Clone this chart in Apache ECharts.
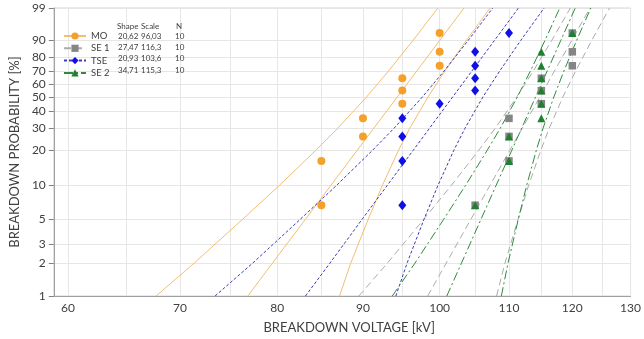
<!DOCTYPE html>
<html><head><meta charset="utf-8">
<script src="https://cdn.jsdelivr.net/npm/echarts@6/dist/echarts.min.js"></script>
<style>html,body{margin:0;padding:0;background:#fff}#c{width:644px;height:339px}</style>
</head><body><div id="c"></div>
<script>
// ---- data ----
const seriesNames = ['MO', 'SE 1', 'TSE', 'SE 2'];
const shapeParams = ['20,62', '27,47', '20,93', '34,71'];
const scaleParams = ['96,03', '116,3', '103,6', '115,3'];
const nParams = ['10', '10', '10', '10'];
const tableHeader = ['Shape', 'Scale', 'N'];

// median-rank probabilities of the 10 points (%)
const rankP = [6.7, 16.3, 25.9, 35.6, 45.2, 54.8, 64.4, 74.0, 83.7, 93.3];
// breakdown voltages (kV)
const moV  = [85, 85, 90, 90, 95, 95, 95, 100, 100, 100];
const se1V = [105, 110, 110, 110, 115, 115, 115, 120, 120, 120];
const tseV = [95, 95, 95, 95, 100, 105, 105, 105, 105, 110];
const se2V = [105, 110, 110, 115, 115, 115, 115, 115, 115, 120];

// probability levels (%) at which the fit lines / bounds were read (kV)
const curveP = [1, 2, 5, 10, 20, 30, 50, 70, 90, 99];
const moFit  = [76.83, 79.47, 83.15, 86.10, 89.29, 91.35, 94.34, 96.90, 99.99, 103.41];
const moLow  = [67.73, 71.36, 76.27, 80.21, 84.36, 86.94, 90.44, 93.21, 96.39, 99.76];
const moUp   = [87.15, 88.50, 90.65, 92.42, 94.50, 95.98, 98.41, 100.73, 103.72, 107.19];
const tseFit = [83.16, 86.00, 89.89, 93.04, 96.43, 98.62, 101.80, 104.53, 107.81, 111.44];
const tseLow = [73.45, 77.34, 82.56, 86.77, 91.19, 93.93, 97.65, 100.61, 103.99, 107.57];
const tseUp  = [94.16, 95.62, 97.87, 99.76, 101.97, 103.55, 106.12, 108.60, 111.77, 115.45];
const se1Fit = [98.37, 100.90, 104.38, 107.15, 110.12, 112.02, 114.76, 117.09, 119.89, 122.95];
const se1Low = [89.49, 93.07, 97.83, 101.60, 105.53, 107.94, 111.18, 113.73, 116.64, 119.68];
const se1Up  = [108.13, 109.39, 111.37, 113.00, 114.91, 116.26, 118.45, 120.55, 123.23, 126.31];
const se2Fit = [100.99, 103.04, 105.84, 108.06, 110.42, 111.93, 114.09, 115.92, 118.10, 120.49];
const se2Low = [93.70, 96.66, 100.55, 103.61, 106.76, 108.69, 111.27, 113.28, 115.56, 117.95];
const se2Up  = [108.85, 109.85, 111.41, 112.70, 114.21, 115.27, 116.99, 118.62, 120.70, 123.09];

const xGridTicks = [60, 65, 70, 75, 80, 85, 90, 95, 100, 105, 110, 115, 120, 125, 130];
const xLabelTicks = [60, 70, 80, 90, 100, 110, 120, 130];
const yTicks = [1, 2, 3, 5, 10, 20, 30, 40, 50, 60, 70, 80, 90, 99];

// ---- Weibull paper transforms ----
const tx = v => Math.log(v);
const ty = p => Math.log(-Math.log(1 - p / 100));
const pts = (xs, ps) => xs.map((x, i) => [tx(x), ty(ps[i])]);

const styles = {
  'MO':   {mark: '#F5A02A', line: '#F3BE70', dash: 'solid', symbol: 'circle', size: 8},
  'SE 1': {mark: '#858585', line: '#ABABAB', dash: [7, 4], symbol: 'rect', size: 7.5},
  'TSE':  {mark: '#1010E6', line: '#3C3CB4', dash: [3, 2], symbol: 'diamond', size: [8, 10]},
  'SE 2': {mark: '#1E8030', line: '#2E8A3C', dash: [9, 3, 2, 3], symbol: 'triangle', size: 8}
};
const groups = [
  {name: 'MO', v: moV, fit: moFit, low: moLow, up: moUp},
  {name: 'SE 1', v: se1V, fit: se1Fit, low: se1Low, up: se1Up},
  {name: 'TSE', v: tseV, fit: tseFit, low: tseLow, up: tseUp},
  {name: 'SE 2', v: se2V, fit: se2Fit, low: se2Low, up: se2Up}
];

const series = [];
groups.forEach(g => {
  const st = styles[g.name];
  [g.fit, g.low, g.up].forEach(arr => {
    series.push({
      name: g.name, type: 'line', data: pts(arr, curveP), smooth: false,
      symbol: st.symbol, symbolSize: st.size, showSymbol: false,
      itemStyle: {color: st.mark},
      lineStyle: {color: st.line, width: 1, type: st.dash},
      z: 2, silent: true
    });
  });
});
groups.forEach((g, gi) => {
  const st = styles[g.name];
  series.push({
    name: g.name, type: 'scatter', data: pts(g.v, rankP),
    symbol: st.symbol, symbolSize: st.size,
    itemStyle: {color: st.mark, opacity: 1}, z: 3 + gi, silent: true
  });
});

const font = 'Lato, "Liberation Sans", Arial, sans-serif';
const txt = '#404040';
const colText = (t, left, top) => ({
  text: t, left: left, top: top, padding: 0,
  textStyle: {fontSize: 8, lineHeight: 11.3, fontWeight: 'normal', color: txt, fontFamily: font}
});
const chart = echarts.init(document.getElementById('c'), null, {renderer: 'canvas'});
chart.setOption({
  animation: false,
  backgroundColor: '#fff',
  textStyle: {fontFamily: font},
  grid: {left: 49, right: 12, top: 8, bottom: 38, show: true, borderColor: '#D4D4D4', borderWidth: 1},
  title: [
    colText(tableHeader[0], 117, 21),
    colText(tableHeader[1], 141, 21),
    colText(tableHeader[2], 176, 21),
    colText(shapeParams.join('\n'), 118, 30.5),
    colText(scaleParams.join('\n'), 141, 30.5),
    colText(nParams.join('\n'), 175, 30.5)
  ],
  legend: {
    data: seriesNames, orient: 'vertical', left: 63, top: 31,
    itemWidth: 22, itemHeight: 9, itemGap: 2.3, selectedMode: false, padding: 0,
    textStyle: {fontSize: 9.5, lineHeight: 9, color: txt, fontFamily: font}
  },
  xAxis: {
    type: 'value', min: tx(58.85), max: tx(130),
    name: 'BREAKDOWN VOLTAGE [kV]', nameLocation: 'middle', nameGap: 25,
    nameTextStyle: {fontSize: 13, color: txt, fontFamily: font, padding: [0, 0, 0, 14]},
    axisLine: {show: true, onZero: false, lineStyle: {color: '#A0A0A0'}},
    axisTick: {show: false, customValues: xGridTicks.map(tx)},
    axisLabel: {customValues: xLabelTicks.map(tx), fontSize: 12, color: txt, margin: 6,
      formatter: v => String(Math.round(Math.exp(v)))},
    splitLine: {show: true, lineStyle: {color: '#E6E6E6', width: 1}}
  },
  yAxis: {
    type: 'value', min: ty(1), max: ty(99),
    name: 'BREAKDOWN PROBABILITY [%]', nameLocation: 'middle', nameGap: 30,
    nameTextStyle: {fontSize: 13, color: txt, fontFamily: font},
    axisLine: {show: true, onZero: false, lineStyle: {color: '#A0A0A0'}},
    axisTick: {show: true, inside: false, length: 5, lineStyle: {color: '#808080'}, customValues: yTicks.map(ty)},
    axisLabel: {customValues: yTicks.map(ty), fontSize: 12, color: txt, margin: 8,
      formatter: v => String(Math.round(100 * (1 - Math.exp(-Math.exp(v)))))},
    splitLine: {show: true, lineStyle: {color: '#E6E6E6', width: 1}}
  },
  series: series
});
</script>
</body></html>
